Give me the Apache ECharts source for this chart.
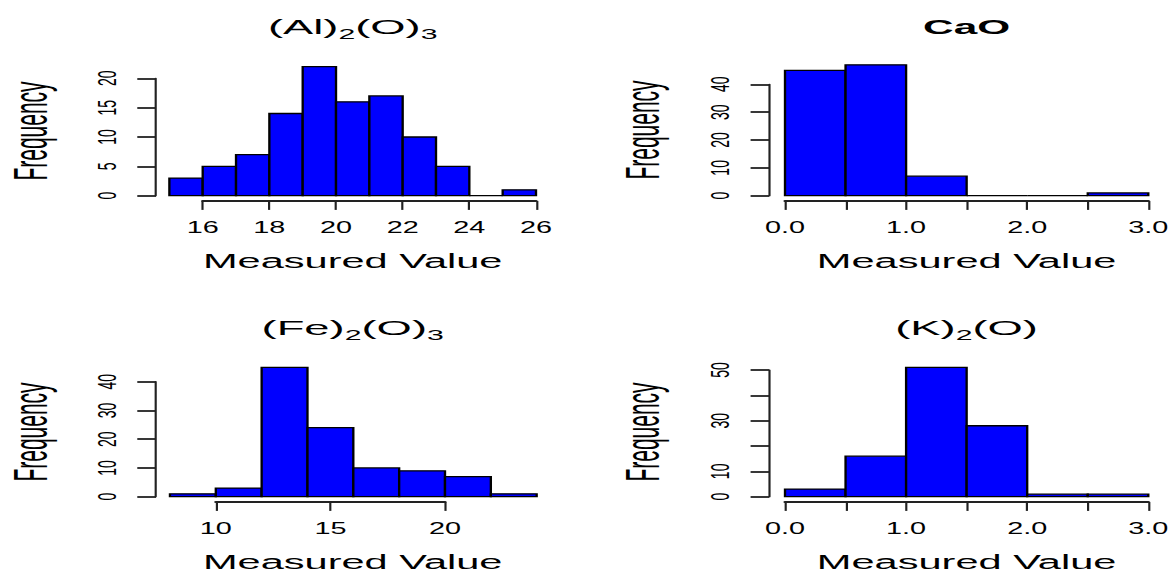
<!DOCTYPE html>
<html>
<head>
<meta charset="utf-8">
<script src="https://cdn.jsdelivr.net/npm/echarts@6/dist/echarts.min.js"></script>
<style>
  html, body { margin: 0; padding: 0; background: #fff; overflow: hidden; }
  #chart { height: 574px; transform-origin: 0 0; }
</style>
</head>
<body>
<div id="chart"></div>
<script>
// histogram breaks and counts
const alBreaks = [15, 16, 17, 18, 19, 20, 21, 22, 23, 24, 25, 26];
const alCounts = [3, 5, 7, 14, 22, 16, 17, 10, 5, 0, 1];
const caoBreaks = [0, 0.5, 1, 1.5, 2, 2.5, 3];
const caoCounts = [45, 47, 7, 0, 0, 1];
const feBreaks = [8, 10, 12, 14, 16, 18, 20, 22, 24];
const feCounts = [1, 3, 45, 24, 10, 9, 7, 1];
const kBreaks = [0, 0.5, 1, 1.5, 2, 2.5, 3];
const kCounts = [3, 16, 51, 28, 1, 1];

// tick labels (R drops the ones that would overlap)
const alXLabels = ['16', '18', '20', '22', '24', '26'];
const alYLabels = ['0', '5', '10', '15', '20'];
const caoXLabels = ['0.0', '1.0', '2.0', '3.0'];
const caoYLabels = ['0', '10', '20', '30', '40'];
const feXLabels = ['10', '15', '20'];
const feYLabels = ['0', '10', '20', '30', '40'];
const kXLabels = ['0.0', '1.0', '2.0', '3.0'];
const kYLabels = ['0', '10', '30', '50'];

// the source image is stretched sideways, so draw narrow and scale the div
const S = 1.8;
const W = 1171;
const ux = x => x / S;
const FONT = "'Liberation Sans', Arial, sans-serif";

// box: [left px of x-min tick, right px of x-max tick, top px of y-max tick, px of y=0]
const panels = [
    {
        title: '{n|(Al)}{s|2}{n|(O)}{s|3}', bold: false,
        breaks: alBreaks, counts: alCounts, xLabels: alXLabels, yLabels: alYLabels,
        xMin: 16, xMax: 26, xStep: 2, xDec: 0, yMax: 20, yStep: 5,
        box: [202.7, 536, 78.3, 195.7], yAxisAt: 156,
        mid: 352.7, titleY: 27.5, nameY: 261, freqX: 31, freqY: 131
    },
    {
        title: 'CaO', bold: true,
        breaks: caoBreaks, counts: caoCounts, xLabels: caoXLabels, yLabels: caoYLabels,
        xMin: 0, xMax: 3, xStep: 0.5, xDec: 1, yMax: 40, yStep: 10,
        box: [785, 1148.3, 84.3, 195.7], yAxisAt: 769.3,
        mid: 966.6, titleY: 26.5, nameY: 261, freqX: 643, freqY: 130
    },
    {
        title: '{n|(Fe)}{s|2}{n|(O)}{s|3}', bold: false,
        breaks: feBreaks, counts: feCounts, xLabels: feXLabels, yLabels: feYLabels,
        xMin: 10, xMax: 20, xStep: 5, xDec: 0, yMax: 40, yStep: 10,
        box: [215.8, 445, 381.7, 496.7], yAxisAt: 156,
        mid: 352.7, titleY: 328.3, nameY: 562, freqX: 31, freqY: 432
    },
    {
        title: '{n|(K)}{s|2}{n|(O)}', bold: false,
        breaks: kBreaks, counts: kCounts, xLabels: kXLabels, yLabels: kYLabels,
        xMin: 0, xMax: 3, xStep: 0.5, xDec: 1, yMax: 50, yStep: 10,
        box: [785, 1148.3, 370, 496.7], yAxisAt: 769.3,
        mid: 966.6, titleY: 328.3, nameY: 562, freqX: 643, freqY: 432
    }
];

const chartEl = document.getElementById('chart');
chartEl.style.width = (W / S) + 'px';
chartEl.style.transform = 'scaleX(' + S + ')';
const chart = echarts.init(chartEl, null, { renderer: 'svg' });

const grids = [], xAxes = [], yAxes = [], series = [], graphics = [];

panels.forEach((p, i) => {
    const b = p.box;
    grids.push({
        left: ux(b[0]), width: ux(b[1] - b[0]),
        top: b[2], height: b[3] - b[2],
        outerBoundsMode: 'none'
    });
    xAxes.push({
        gridIndex: i, type: 'value',
        min: p.xMin, max: p.xMax, interval: p.xStep,
        offset: 5.2,
        axisLine: { show: true, onZero: false, lineStyle: { color: '#222', width: 1.8 } },
        axisTick: { show: true, length: 9, lineStyle: { color: '#222', width: 1.2 } },
        axisLabel: {
            fontSize: 16, color: '#000', fontFamily: FONT, margin: 19,
            formatter: v => {
                const s = v.toFixed(p.xDec);
                return p.xLabels.includes(s) ? s : '';
            }
        },
        splitLine: { show: false }
    });
    yAxes.push({
        gridIndex: i, type: 'value',
        min: 0, max: p.yMax, interval: p.yStep,
        offset: ux(b[0] - p.yAxisAt),
        axisLine: { show: true, onZero: false, lineStyle: { color: '#222', width: 1.2 } },
        axisTick: { show: true, length: 10.4, lineStyle: { color: '#222', width: 1.8 } },
        axisLabel: {
            rotate: 90, fontSize: 14, color: '#000', fontFamily: FONT, margin: 20,
            formatter: v => {
                const s = String(v);
                return p.yLabels.includes(s) ? s : '';
            }
        },
        splitLine: { show: false }
    });

    const data = p.counts.map((c, k) => [p.breaks[k], p.breaks[k + 1], c]);
    series.push({
        type: 'custom',
        xAxisIndex: i, yAxisIndex: i,
        clip: false,
        encode: { x: [0, 1], y: 2 },
        data: data,
        renderItem: (params, api) => {
            const tl = api.coord([api.value(0), api.value(2)]);
            const br = api.coord([api.value(1), 0]);
            return {
                type: 'rect',
                shape: { x: tl[0], y: tl[1], width: br[0] - tl[0], height: br[1] - tl[1] },
                style: { fill: '#0000ff', stroke: '#000', lineWidth: 1.3 }
            };
        }
    });

    // panel title
    if (p.bold) {
        graphics.push({
            type: 'text', x: ux(p.mid), y: p.titleY, scaleX: 1.12,
            style: {
                text: p.title, fill: '#000', font: 'bold 21px ' + FONT,
                align: 'center', verticalAlign: 'middle'
            }
        });
    } else {
        graphics.push({
            type: 'text', x: ux(p.mid), y: p.titleY - 11, scaleX: 1.2,
            style: {
                text: p.title, fill: '#000', fontFamily: FONT,
                align: 'center', verticalAlign: 'top',
                rich: {
                    n: { fontSize: 21, lineHeight: 22, verticalAlign: 'top', fontFamily: FONT, fill: '#000' },
                    s: { fontSize: 14, lineHeight: 36, fontFamily: FONT, fill: '#000' }
                }
            }
        });
    }
    // axis titles
    graphics.push({
        type: 'text', x: ux(p.mid), y: p.nameY, scaleX: 1.1,
        style: {
            text: 'Measured Value', fill: '#000', font: '21px ' + FONT,
            align: 'center', verticalAlign: 'middle'
        }
    });
    graphics.push({
        type: 'text', x: ux(p.freqX), y: p.freqY, rotation: Math.PI / 2, scaleY: 1.25,
        style: {
            text: 'Frequency', fill: '#000', font: '21px ' + FONT,
            align: 'center', verticalAlign: 'middle'
        }
    });
});

chart.setOption({
    backgroundColor: '#fff',
    animation: false,
    grid: grids,
    xAxis: xAxes,
    yAxis: yAxes,
    series: series,
    graphic: graphics
});
</script>
</body>
</html>
